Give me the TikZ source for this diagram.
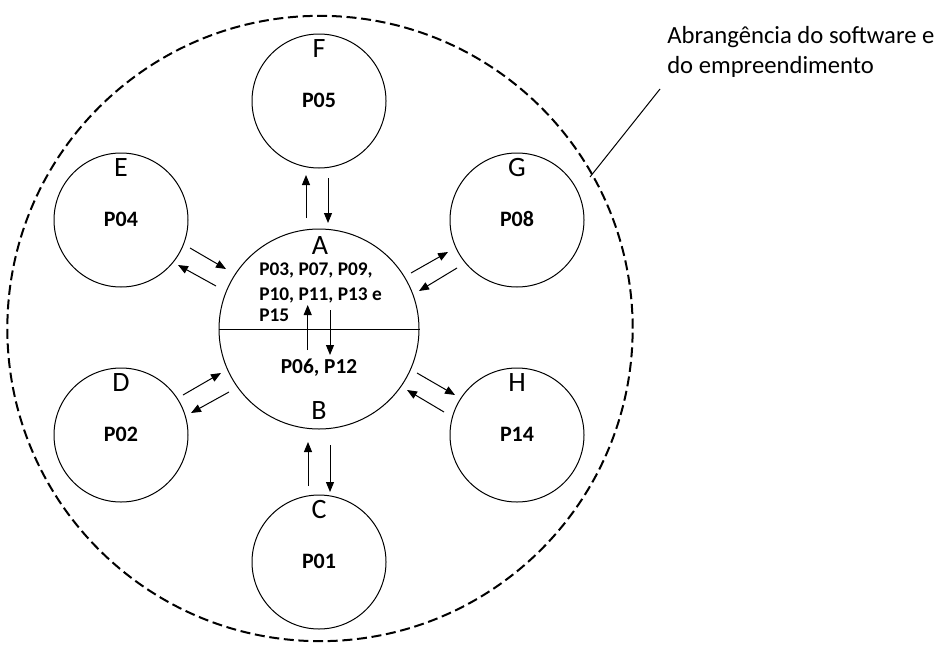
\documentclass[tikz,border=0pt]{standalone}
\usepackage{fontspec}
\setmainfont{Carlito}
\usetikzlibrary{arrows.meta}
\begin{document}
\begin{tikzpicture}[x=0.75pt,y=-0.75pt,
  sat/.style={circle,draw,line width=0.75pt,minimum size=100.5pt,inner sep=0pt},
  hub/.style={circle,draw,line width=0.75pt,minimum size=150pt,inner sep=0pt},
  scopecirc/.style={circle,draw,line width=1.5pt,dash pattern=on 7.5pt off 3.5pt,minimum size=469pt,inner sep=0pt},
  letter/.style={font=\fontsize{21}{25}\selectfont,inner sep=0pt,anchor=base},
  plabel/.style={font=\fontsize{16.5}{19}\selectfont\bfseries,inner sep=0pt,anchor=base},
  arr/.style={line width=0.75pt,-{Triangle[length=7.5pt,width=6pt]}},
  thin/.style={line width=0.75pt}]
\useasboundingbox (0,0) rectangle (941,646);
% outer scope circle
\node[scopecirc] (scope) at (320,328.5) {};
% hub
\node[hub] (hub) at (319,329) {};
\draw[thin] (hub.west) -- (hub.east);
\node[letter] (la) at (320,254) {A};
\node[letter] (lb) at (319,419) {B};
\node[font=\fontsize{14.5}{18.75}\selectfont\bfseries,inner sep=0pt,anchor=base west,align=left] (ptop) at (259,321.7) {P03, P07, P09,\\P10, P11, P13 e\\[-3.2pt]P15};
\node[font=\fontsize{16}{20}\selectfont\bfseries,inner sep=0pt,anchor=base] (pbot) at (319,373.3) {P06, P12};
% satellites
\node[sat] (F) at (319,101) {};
\node[sat] (C) at (319,562) {};
\node[sat] (E) at (121,220) {};
\node[sat] (G) at (517,220) {};
\node[sat] (D) at (121,435) {};
\node[sat] (H) at (517,435) {};
\node[letter] (lF) at (319,57) {F};
\node[plabel] (pF) at (319,107) {P05};
\node[letter] (lC) at (319,518) {C};
\node[plabel] (pC) at (319,568) {P01};
\node[letter] (lE) at (121,176) {E};
\node[plabel] (pE) at (121,226) {P04};
\node[letter] (lG) at (517,176) {G};
\node[plabel] (pG) at (517,226) {P08};
\node[letter] (lD) at (121,391) {D};
\node[plabel] (pD) at (121,441) {P02};
\node[letter] (lH) at (517,391) {H};
\node[plabel] (pH) at (517,441) {P14};
% arrow end points
\coordinate (fa1) at (306,218); \coordinate (fa2) at (306,175);
\coordinate (af1) at (328,178); \coordinate (af2) at (328,223);
\coordinate (ca1) at (308,486); \coordinate (ca2) at (308,442);
\coordinate (ac1) at (330,445); \coordinate (ac2) at (330,492);
\coordinate (ea1) at (190,248); \coordinate (ea2) at (226,269);
\coordinate (ae1) at (216,286); \coordinate (ae2) at (178,265);
\coordinate (da1) at (183,395); \coordinate (da2) at (221,373);
\coordinate (ad1) at (229,392); \coordinate (ad2) at (191,413);
\coordinate (ag1) at (411,273); \coordinate (ag2) at (448,252);
\coordinate (ga1) at (457,268); \coordinate (ga2) at (419,291);
\coordinate (ah1) at (417,373); \coordinate (ah2) at (455,395);
\coordinate (ha1) at (444,412); \coordinate (ha2) at (407,390);
\coordinate (ba1) at (307.7,350); \coordinate (ba2) at (307.7,305);
\coordinate (ab1) at (330,310); \coordinate (ab2) at (330,355);
\foreach \s/\e in {fa1/fa2,af1/af2,ca1/ca2,ac1/ac2,ea1/ea2,ae1/ae2,da1/da2,ad1/ad2,ag1/ag2,ga1/ga2,ah1/ah2,ha1/ha2,ba1/ba2,ab1/ab2}
  \draw[arr] (\s) -- (\e);
% scope label
\node[font=\fontsize{18.5}{22.5}\selectfont,inner sep=0pt,anchor=base west,align=left] (note) at (667,73) {Abrangência do software e\\do empreendimento};
\coordinate (lead1) at (590,177);
\coordinate (lead2) at (660,89);
\draw[thin] (lead1) -- (lead2);
\end{tikzpicture}
\end{document}
